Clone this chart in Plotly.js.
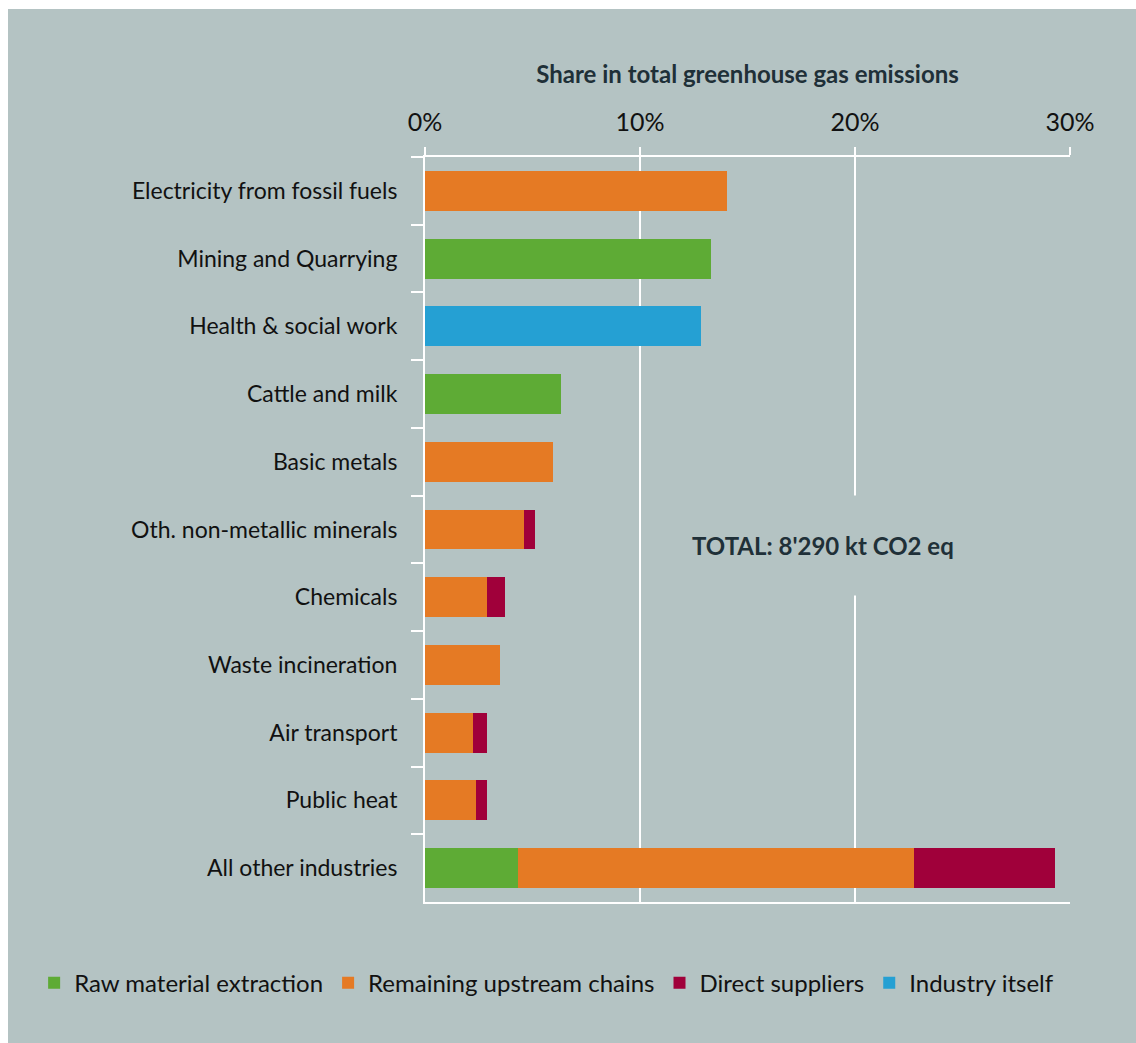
<!DOCTYPE html>
<html>
<head>
<meta charset="utf-8">
<script src="https://cdn.plot.ly/plotly-3.0.1.min.js"></script>
<style>
  html, body { margin: 0; padding: 0; background: #ffffff; }
  #chart { position: absolute; left: 8px; top: 9px; width: 1128px; height: 1034px; }
</style>
</head>
<body>
<div id="chart"></div>
<script>
const categories = [
  "Electricity from fossil fuels",
  "Mining and Quarrying",
  "Health & social work",
  "Cattle and milk",
  "Basic metals",
  "Oth. non-metallic minerals",
  "Chemicals",
  "Waste incineration",
  "Air transport",
  "Public heat",
  "All other industries"
];
const rawMaterial = [0, 13.3, 0, 6.33, 0, 0, 0, 0, 0, 0, 4.34];
const remainingUpstream = [14.05, 0, 0, 0, 5.95, 4.6, 2.88, 3.49, 2.23, 2.37, 18.39];
const directSuppliers = [0, 0, 0, 0, 0, 0.51, 0.84, 0, 0.65, 0.51, 6.55];
const industryItself = [0, 0, 12.84, 0, 0, 0, 0, 0, 0, 0, 0];
const seriesNames = ["Raw material extraction", "Remaining upstream chains", "Direct suppliers", "Industry itself"];
const xTickVals = [0, 10, 20, 30];
const xTickText = ["0%", "10%", "20%", "30%"];
const totalLabel = "TOTAL: 8'290 kt CO2 eq";
const axisTitle = "Share in total greenhouse gas emissions";

const colors = ["#5eab35", "#e57a24", "#a0003a", "#25a0d3"];
const bg = "#b4c3c3";
const FONT = "Lato, 'Open Sans', sans-serif";

const seriesValues = [rawMaterial, remainingUpstream, directSuppliers, industryItself];
const traces = seriesValues.map((vals, i) => ({
  type: "bar",
  orientation: "h",
  name: seriesNames[i],
  y: categories,
  x: vals,
  marker: { color: colors[i], line: { width: 0 } },
  hoverinfo: "y+x+name"
}));

const layout = {
  width: 1128,
  height: 1034,
  paper_bgcolor: bg,
  plot_bgcolor: bg,
  barmode: "stack",
  bargap: 0.41,
  margin: { l: 417, r: 66, t: 148, b: 141 },
  font: { family: FONT, color: "#111111" },
  showlegend: true,
  legend: {
    orientation: "h",
    traceorder: "normal",
    xref: "paper",
    yref: "paper",
    x: -0.606,
    xanchor: "left",
    y: -0.109,
    yanchor: "middle",
    font: { family: FONT, size: 24, color: "#111111" },
    itemwidth: 30,
    bgcolor: "rgba(0,0,0,0)"
  },
  xaxis: {
    side: "top",
    range: [0, 30],
    tickvals: xTickVals,
    ticktext: xTickText,
    tickfont: { family: FONT, size: 25, color: "#111111" },
    ticks: "outside",
    ticklen: 8,
    tickwidth: 2,
    tickcolor: "#ffffff",
    ticklabelstandoff: 6,
    showgrid: true,
    gridcolor: "#ffffff",
    gridwidth: 2,
    zeroline: false,
    showline: true,
    linecolor: "#ffffff",
    linewidth: 2,
    mirror: true,
    fixedrange: true,
    title: {
      text: "<b>" + axisTitle + "</b>",
      font: { family: FONT, size: 24, color: "#1f3038" },
      standoff: 16
    }
  },
  yaxis: {
    type: "category",
    autorange: "reversed",
    tickfont: { family: FONT, size: 23, color: "#111111" },
    ticks: "outside",
    tickson: "boundaries",
    ticklen: 12,
    tickwidth: 2,
    tickcolor: "#ffffff",
    ticklabelstandoff: 21,
    showgrid: false,
    zeroline: false,
    showline: true,
    linecolor: "#ffffff",
    linewidth: 2,
    fixedrange: true
  },
  annotations: [{
    text: "<b>" + totalLabel + "</b>",
    xref: "x",
    yref: "paper",
    x: 18.5,
    y: 0.479,
    xanchor: "center",
    yanchor: "middle",
    showarrow: false,
    font: { family: FONT, size: 24, color: "#1f3038" },
    bgcolor: bg,
    borderpad: 35
  }]
};

Plotly.newPlot("chart", traces, layout, { displayModeBar: false });
</script>
</body>
</html>
